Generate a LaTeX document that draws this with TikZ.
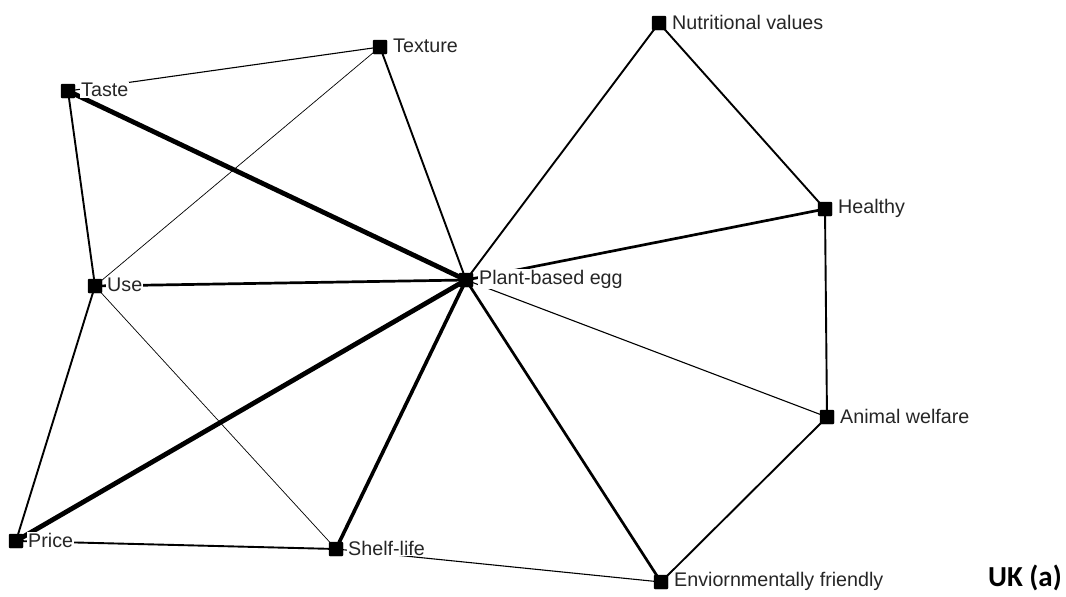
\documentclass[tikz,border=0pt]{standalone}
\usepackage{fontspec}
\setmainfont{Liberation Sans}
\newfontfamily\uklabfont{Carlito}
\usetikzlibrary{backgrounds}
\tikzset{
  sq/.style={fill=black, draw=black, minimum size=14pt, inner sep=0pt, rounded corners=1pt},
  lab/.style={anchor=west, inner sep=1pt, fill=white, font=\fontsize{19.7}{22}\selectfont, text=black!85},
  e/.style={draw=black, line cap=round},
  w1/.style={e, line width=0.7pt},
  w2/.style={e, line width=1.1pt},
  w3/.style={e, line width=1.9pt},
  w4/.style={e, line width=2.7pt},
  w5/.style={e, line width=3.6pt},
  w6/.style={e, line width=4.8pt},
}
\begin{document}
\begin{tikzpicture}[x=1pt,y=-1pt]
\useasboundingbox (0,0) rectangle (1066,597);
\node[sq] (taste) at (68,91) {};
\node[sq] (texture) at (380,47) {};
\node[sq] (nutri) at (659,23) {};
\node[sq] (healthy) at (825,209) {};
\node[sq] (use) at (95,286) {};
\node[sq] (egg) at (466,280) {};
\node[sq] (animal) at (827,417) {};
\node[sq] (price) at (16,541) {};
\node[sq] (shelf) at (336,549) {};
\node[sq] (env) at (661,582) {};
\begin{pgfonlayer}{background}
\draw[w2] (taste.center) -- (texture.center);
\draw[w6] (taste.center) -- (egg.center);
\draw[w3] (taste.center) -- (use.center);
\draw[w1] (texture.center) -- (use.center);
\draw[w3] (texture.center) -- (egg.center);
\draw[w4] (use.center) -- (egg.center);
\draw[w3] (use.center) -- (price.center);
\draw[w1] (use.center) -- (shelf.center);
\draw[w6] (price.center) -- (egg.center);
\draw[w3] (price.center) -- (shelf.center);
\draw[w5] (shelf.center) -- (egg.center);
\draw[w2] (shelf.center) -- (env.center);
\draw[w4] (egg.center) -- (env.center);
\draw[w2] (egg.center) -- (animal.center);
\draw[w4] (egg.center) -- (healthy.center);
\draw[w3] (nutri.center) -- (healthy.center);
\draw[w3] (nutri.center) -- (egg.center);
\draw[w3] (healthy.center) -- (animal.center);
\draw[w3] (animal.center) -- (env.center);
\end{pgfonlayer}
\node[lab] (tasteL) at (80,90) {Taste};
\node[lab] (textureL) at (392,46) {Texture};
\node[lab] (nutriL) at (671,22) {Nutritional values};
\node[lab] (healthyL) at (837,208) {Healthy};
\node[lab] (useL) at (106,285) {Use};
\node[lab] (eggL) at (478,279) {Plant-based egg};
\node[lab] (animalL) at (839,416) {Animal welfare};
\node[lab] (priceL) at (27,540) {Price};
\node[lab] (shelfL) at (347,548) {Shelf-life};
\node[lab] (envL) at (673,581) {Enviornmentally friendly};
\node[anchor=east, inner sep=0pt, font=\uklabfont\bfseries\fontsize{29}{31}\selectfont] (uk) at (1062,578) {UK (a)};
\end{tikzpicture}
\end{document}
